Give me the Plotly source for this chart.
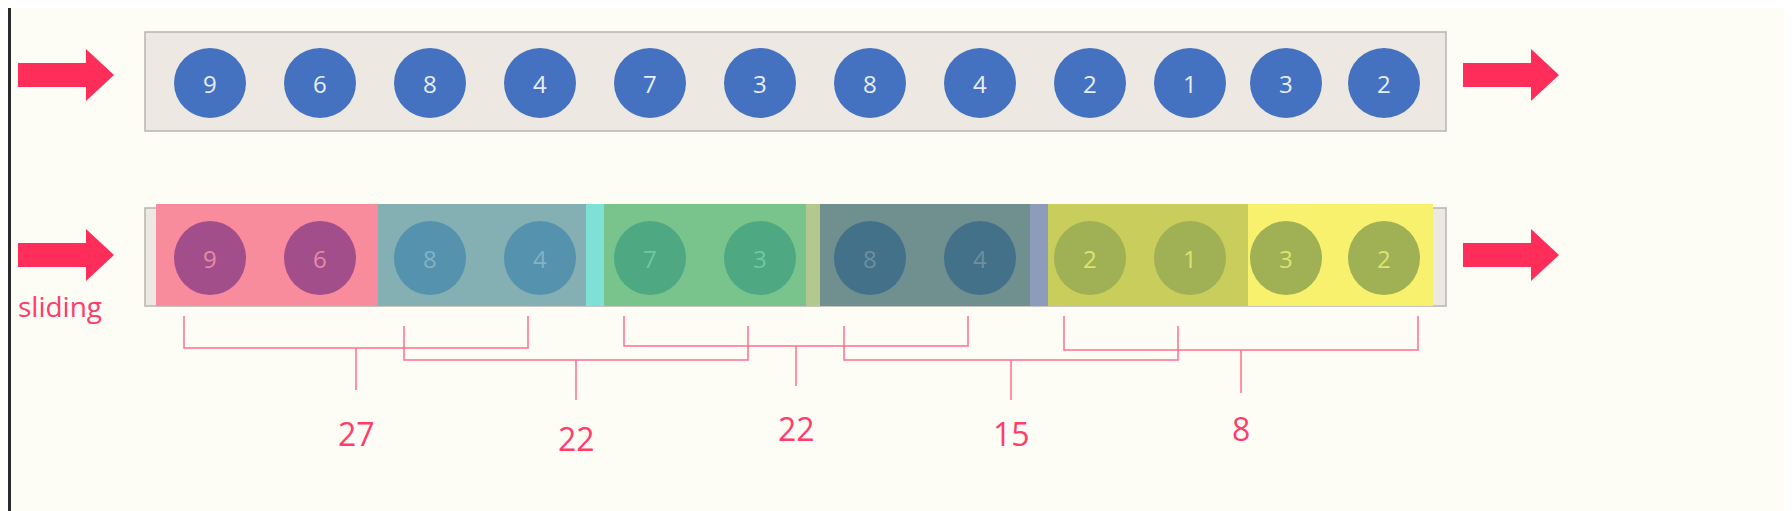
import plotly.graph_objects as go

# data
values = [9, 6, 8, 4, 7, 3, 8, 4, 2, 1, 3, 2]
window_sums = [27, 22, 22, 15, 8]
window_size = 4
step = 2
side_label = "sliding"

W, H = 1792, 511
centers = [202, 312, 422, 532, 642, 752, 862, 972, 1082, 1182, 1278, 1376]
pink = "#ff3d6b"
line_pink = "#ff6f8c"

fig = go.Figure()
shapes = []

def arrow(x0, yc):
    path = (f"M {x0},{yc-12} L {x0+68},{yc-12} L {x0+68},{yc-26} L {x0+96},{yc} "
            f"L {x0+68},{yc+26} L {x0+68},{yc+12} L {x0},{yc+12} Z")
    return dict(type="path", path=path, fillcolor="#ff2d5a", line=dict(width=0), layer="above")

# rows
for y0, y1 in [(24, 123), (200, 298)]:
    shapes.append(dict(type="rect", x0=137, x1=1438, y0=y0, y1=y1,
                       fillcolor="#eee8e2", line=dict(color="#b8b4b0", width=1.5)))
for yc in (67, 247):
    shapes.append(arrow(10, yc))
    shapes.append(arrow(1455, yc))

# window segments (bottom row), drawn as flat colour bands
segments = [
    (148, 380, "#f88b9c"), (370, 580, "#84b0b3"), (578, 600, "#7ee0d6"),
    (596, 800, "#78c48c"), (798, 815, "#b2c88e"), (812, 1024, "#6f908e"),
    (1022, 1042, "#8e9cbc"), (1040, 1243, "#c8cd5c"), (1240, 1425, "#f8f16e"),
]
for a, b, c in segments:
    shapes.append(dict(type="rect", x0=a, x1=b, y0=196, y1=298, fillcolor=c,
                       line=dict(width=0), layer="above"))

circle_bottom = ["#a24e8a"] * 2 + ["#5592ad"] * 2 + ["#4ea983"] * 2 + ["#43718a"] * 2 + ["#a0b055"] * 4
text_bottom = ["#e58aa8"] * 2 + ["#82b3c4"] * 2 + ["#72c79c"] * 2 + ["#6d8fa0"] * 2 + ["#dde46f"] * 4

for i, v in enumerate(values):
    x = centers[i]
    shapes.append(dict(type="circle", x0=x - 36, x1=x + 36, y0=40, y1=110,
                       fillcolor="#4472c0", line=dict(width=0), layer="above"))
    shapes.append(dict(type="circle", x0=x - 36, x1=x + 36, y0=213, y1=287,
                       fillcolor=circle_bottom[i], line=dict(width=0), layer="above"))
    fig.add_annotation(x=x, y=75, text=str(v), showarrow=False,
                       font=dict(size=24, color="#e8eef8", family="Open Sans"))
    fig.add_annotation(x=x, y=250, text=str(v), showarrow=False,
                       font=dict(size=24, color=text_bottom[i], family="Open Sans"))

# brackets
tops = [308, 318, 308, 318, 308]
hbars = [340, 352, 338, 352, 342]
stems = [382, 392, 378, 392, 385]
labels_y = [425, 430, 420, 425, 420]
for k, s in enumerate(window_sums):
    a = centers[k * step] - 26
    b = centers[k * step + window_size - 1] - 12 + (k == 4) * 46
    mid = (a + b) / 2
    shapes.append(dict(type="path",
                       path=f"M {a},{tops[k]} L {a},{hbars[k]} L {b},{hbars[k]} L {b},{tops[k]}",
                       line=dict(color=line_pink, width=1.5)))
    shapes.append(dict(type="line", x0=mid, x1=mid, y0=hbars[k], y1=stems[k],
                       line=dict(color=line_pink, width=1.5)))
    fig.add_annotation(x=mid, y=labels_y[k], text=str(s), showarrow=False,
                       font=dict(size=32, color=pink, family="Open Sans"))

fig.add_annotation(x=52, y=298, text=side_label, showarrow=False,
                   font=dict(size=28, color=pink, family="Open Sans"))
shapes.append(dict(type="rect", x0=0, x1=3, y0=0, y1=H, fillcolor="#2b2b2b", line=dict(width=0)))

fig.update_layout(
    width=W, height=H, margin=dict(l=0, r=0, t=0, b=0),
    paper_bgcolor="#fdfcf5", plot_bgcolor="#fdfcf5", showlegend=False,
    shapes=shapes,
    xaxis=dict(range=[0, W], visible=False, fixedrange=True),
    yaxis=dict(range=[H, 0], visible=False, fixedrange=True),
)
fig.write_html("out.html")
